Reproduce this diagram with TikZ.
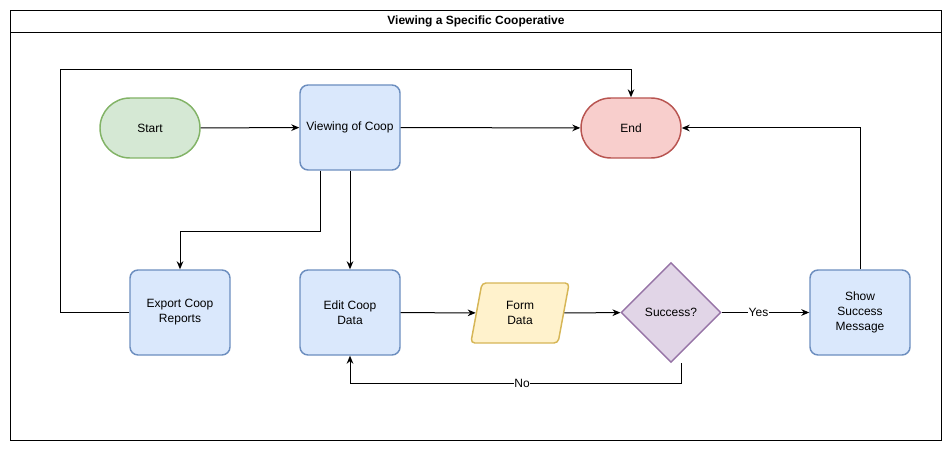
\documentclass[tikz,border=0pt]{standalone}
\usepackage{fontspec}
\setmainfont{Liberation Sans}
\definecolor{procfill}{HTML}{DAE8FC}
\definecolor{procline}{HTML}{6C8EBF}
\definecolor{startfill}{HTML}{D5E8D4}
\definecolor{startline}{HTML}{82B366}
\definecolor{stopfill}{HTML}{F8CECC}
\definecolor{stopline}{HTML}{B85450}
\definecolor{iofill}{HTML}{FFF2CC}
\definecolor{ioline}{HTML}{D6B656}
\definecolor{decfill}{HTML}{E1D5E7}
\definecolor{decline}{HTML}{9673A6}
\usetikzlibrary{shapes.misc, shapes.geometric, arrows.meta, positioning, calc}

\begin{document}
\begin{tikzpicture}[
  x=0.75pt, y=-0.75pt,
  font=\fontsize{9}{11.25}\selectfont,
  term/.style={draw, rounded rectangle, line width=1.1pt, minimum width=75pt, minimum height=45pt, inner sep=0pt},
  proc/.style={draw=procline, fill=procfill, rounded corners=6pt, line width=1.1pt, minimum width=75pt, minimum height=63.75pt, align=center, inner sep=2pt},
  io/.style={draw=ioline, fill=iofill, trapezium, trapezium left angle=80, trapezium right angle=100, trapezium stretches=true, rounded corners=3pt, line width=1.1pt, minimum width=74pt, minimum height=45pt, align=center, inner sep=0pt},
  dec/.style={draw=decline, fill=decfill, diamond, line width=1.1pt, minimum width=75pt, minimum height=75pt, inner sep=0pt},
  arr/.style={-{Stealth[length=6pt, width=5pt]}, line width=0.75pt},
  lbl/.style={fill=white, inner sep=0.5pt}
]
  \useasboundingbox (0,0) rectangle (952,452);

  % frame and title
  \draw[line width=0.75pt] (10.5,10.5) rectangle (941,440);
  \draw[line width=0.75pt] (10.5,33) -- (941,33);
  \node[font=\fontsize{9}{11.25}\selectfont\bfseries] (title) at (476,21.5) {Viewing a Specific Cooperative};

  % top row
  \node[term, draw=startline, fill=startfill] (start) at (150,128) {Start};
  \node[proc] (view) at (350,127.5) {Viewing of Coop};
  \node[term, draw=stopline, fill=stopfill] (stop) at (631,128) {End};

  % bottom row
  \node[proc] (export) at (180,312.5) {Export Coop\\Reports};
  \node[proc] (edit) at (350,312.5) {Edit Coop\\Data};
  \node[io] (form) at (520,313) {Form\\Data};
  \node[dec] (check) at (671,312.5) {Success?};
  \node[proc] (show) at (860,312.5) {Show\\Success\\Message};

  % connectors
  \draw[arr] (start) -- (view);
  \draw[arr] (view) -- (stop);
  \draw[arr] ([xshift=-22.5pt]view.south) -- ++(0,61) -| (export.north);
  \draw[arr] (view.south) -- (edit.north);
  \draw[arr] (export.west) -| (60,70) -| (stop.north);
  \draw[arr] (edit) -- (form);
  \draw[arr] (form) -- (check);
  \draw[arr] (check) -- node[lbl, pos=0.42] {Yes} (show);
  \draw[arr] ([xshift=7.5pt]check.south) -- ++(0,20) -| node[lbl, pos=0.24] {No} (edit.south);
  \draw[arr] (show.north) |- (stop.east);
\end{tikzpicture}
\end{document}
